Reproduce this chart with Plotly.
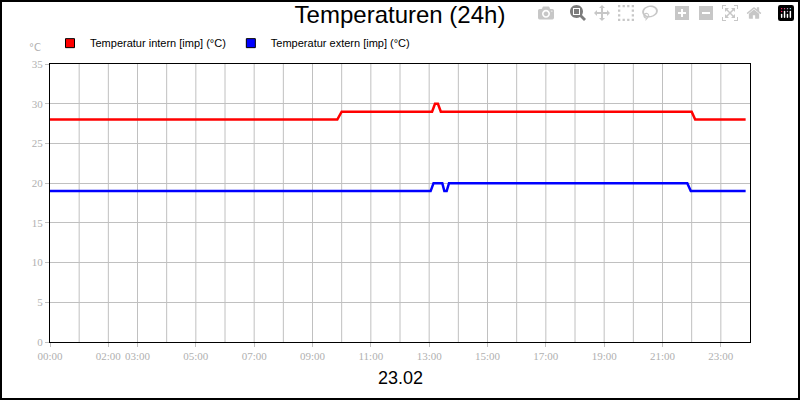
import plotly.graph_objects as go

red_x = [0, 9.85, 10.0, 13.1, 13.2, 13.3, 13.4, 22.0, 22.12, 23.85]
red_y = [28, 28, 29, 29, 30, 30, 29, 29, 28, 28]
blue_x = [0, 13.05, 13.15, 13.45, 13.52, 13.6, 13.68, 21.85, 21.97, 23.85]
blue_y = [19, 19, 20, 20, 19, 19, 20, 20, 19, 19]
tick_vals = [0, 2, 3, 5, 7, 9, 11, 13, 15, 17, 19, 21, 23]
tick_text = ["00:00", "02:00", "03:00", "05:00", "07:00", "09:00", "11:00", "13:00", "15:00", "17:00", "19:00", "21:00", "23:00"]
names = ["Temperatur intern [imp] (°C)", "Temperatur extern [imp] (°C)"]
colors = ["#ff0000", "#0000ff"]

fig = go.Figure()
fig.add_trace(go.Scatter(x=red_x, y=red_y, mode="lines", line=dict(color=colors[0], width=2.5), showlegend=False))
fig.add_trace(go.Scatter(x=blue_x, y=blue_y, mode="lines", line=dict(color=colors[1], width=2.5), showlegend=False))
for n, c in zip(names, colors):
    fig.add_trace(go.Scatter(x=[None], y=[None], mode="markers", name=n,
                             marker=dict(symbol="square", size=9, color=c, line=dict(color="black", width=1))))

grid = "#c0c0c0"
fig.update_layout(
    width=800, height=400, plot_bgcolor="white", paper_bgcolor="white",
    margin=dict(l=50, r=50, t=64, b=58),
    font=dict(family="DejaVu Sans", size=10, color="#b0b0b0"),
    title=dict(text="Temperaturen (24h)", x=0.5, xanchor="center", y=0.985, yanchor="top",
               font=dict(size=24, color="black", family="Liberation Sans")),
    legend=dict(orientation="h", x=0.0, xanchor="left", y=1.075, yanchor="middle",
                font=dict(size=11, color="black", family="Liberation Sans"), itemwidth=30,
                bgcolor="rgba(0,0,0,0)"),
    xaxis=dict(range=[0, 24], tickvals=tick_vals, ticktext=tick_text, showgrid=False,
               showline=True, linecolor="black", linewidth=1, mirror=True,
               ticks="outside", ticklen=4, tickcolor=grid, zeroline=False,
               tickfont=dict(color="#b0b0b0", size=11, family="Liberation Sans Narrow")),
    yaxis=dict(range=[0, 35], dtick=5, gridcolor=grid, showline=True, linecolor="black",
               linewidth=1, mirror=True, ticks="outside", ticklen=4, tickcolor=grid,
               zeroline=False, tickfont=dict(color="#b0b0b0", size=11, family="Liberation Sans Narrow")),
    shapes=[dict(type="rect", xref="paper", yref="paper", x0=-49/700, x1=1+49/700,
                 y0=-57/278, y1=1+63/278, line=dict(color="black", width=2))]
    + [dict(type="line", x0=h, x1=h, y0=0, y1=35, xref="x", yref="y",
            line=dict(color=grid, width=1), layer="below") for h in range(1, 24)],
    annotations=[
        dict(text="23.02", x=0.5, y=-0.13, xref="paper", yref="paper", showarrow=False,
             yanchor="middle", font=dict(size=18, color="black", family="Liberation Sans")),
        dict(text="°C", x=-0.01, y=1.061, xref="paper", yref="paper", showarrow=False,
             xanchor="right", yanchor="middle", font=dict(size=10, color="#b0b0b0")),
    ],
)
fig.write_html("out.html")
with open("out.html", encoding="utf-8") as f:
    html = f.read()
html = html.replace("<body>", '<body style="margin:0;overflow:hidden">', 1)
with open("out.html", "w", encoding="utf-8") as f:
    f.write(html)
